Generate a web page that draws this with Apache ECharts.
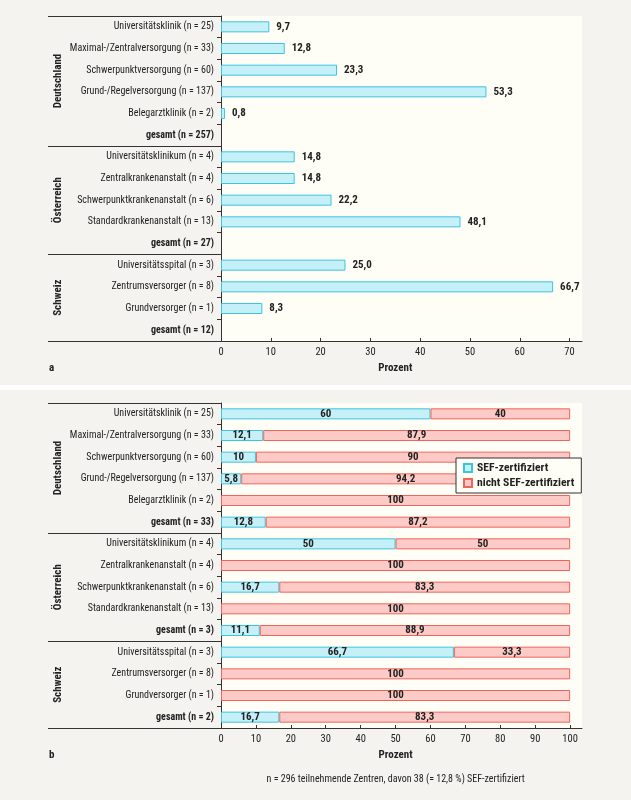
<!DOCTYPE html>
<html><head><meta charset="utf-8">
<script src="https://cdn.jsdelivr.net/npm/echarts@6/dist/echarts.min.js"></script>
<style>html,body{margin:0;padding:0;background:#f4f3f0}#c{width:631px;height:800px}</style>
</head><body><div id="c"></div>
<script>
// ---- data ----
const groups = ['Deutschland', 'Österreich', 'Schweiz'];
const groupSizes = [6, 5, 4];
const catsA = [
  'Universitätsklinik (n = 25)', 'Maximal-/Zentralversorgung (n = 33)', 'Schwerpunktversorgung (n = 60)',
  'Grund-/Regelversorgung (n = 137)', 'Belegarztklinik (n = 2)', 'gesamt (n = 257)',
  'Universitätsklinikum (n = 4)', 'Zentralkrankenanstalt (n = 4)', 'Schwerpunktkrankenanstalt (n = 6)',
  'Standardkrankenanstalt (n = 13)', 'gesamt (n = 27)',
  'Universitätsspital (n = 3)', 'Zentrumsversorger (n = 8)', 'Grundversorger (n = 1)', 'gesamt (n = 12)'
];
const valsA = [9.7, 12.8, 23.3, 53.3, 0.8, null, 14.8, 14.8, 22.2, 48.1, null, 25.0, 66.7, 8.3, null];
const catsB = [
  'Universitätsklinik (n = 25)', 'Maximal-/Zentralversorgung (n = 33)', 'Schwerpunktversorgung (n = 60)',
  'Grund-/Regelversorgung (n = 137)', 'Belegarztklinik (n = 2)', 'gesamt (n = 33)',
  'Universitätsklinikum (n = 4)', 'Zentralkrankenanstalt (n = 4)', 'Schwerpunktkrankenanstalt (n = 6)',
  'Standardkrankenanstalt (n = 13)', 'gesamt (n = 3)',
  'Universitätsspital (n = 3)', 'Zentrumsversorger (n = 8)', 'Grundversorger (n = 1)', 'gesamt (n = 2)'
];
const sefYes = [60, 12.1, 10, 5.8, null, 12.8, 50, null, 16.7, null, 11.1, 66.7, null, null, 16.7];
const sefNo  = [40, 87.9, 90, 94.2, 100, 87.2, 50, 100, 83.3, 100, 88.9, 33.3, 100, 100, 83.3];
const ticksA = [0, 10, 20, 30, 40, 50, 60, 70];
const ticksB = [0, 10, 20, 30, 40, 50, 60, 70, 80, 90, 100];
const seriesNames = ['SEF-zertifiziert', 'nicht SEF-zertifiziert'];
const footnote = 'n = 296 teilnehmende Zentren, davon 38 (= 12,8 %) SEF-zertifiziert';

// ---- style ----
const FONT = "'Roboto Condensed', 'Liberation Sans Narrow', sans-serif";
const TXT = '#222';
const CREAM = '#fefdf6';
const CY = '#c6f0f7', CYB = '#3cc5df';
const RD = '#fccbc7', RDB = '#f0645b';
const comma = v => String(v).replace('.', ',');

const chart = echarts.init(document.getElementById('c'), null, {renderer: 'canvas'});

function yAx(idx, cats) {
  return {
    type: 'category', gridIndex: idx, data: cats, inverse: true,
    axisLine: {show: true, lineStyle: {color: '#333', width: 1}},
    axisTick: {show: true, interval: 0, length: 4, lineStyle: {color: '#333'}},
    axisLabel: {
      interval: 0, margin: 7, color: TXT, fontFamily: FONT, fontSize: 10,
      formatter: v => v.startsWith('gesamt') ? '{b|' + v + '}' : v,
      rich: {b: {fontWeight: 'bold', fontFamily: FONT, fontSize: 10, color: TXT}}
    },
    splitLine: {show: false}
  };
}
function xAx(idx, max, ticks) {
  return {
    type: 'value', gridIndex: idx, min: 0, max: max, interval: 10,
    axisLine: {show: true, lineStyle: {color: '#333', width: 1}},
    axisTick: {show: true, inside: true, length: 3, customValues: ticks, lineStyle: {color: '#333'}},
    axisLabel: {margin: 6, color: TXT, fontFamily: FONT, fontSize: 10.5, customValues: ticks,
      formatter: v => (v % 10 === 0 && v <= ticks[ticks.length - 1]) ? String(v) : ''},
    splitLine: {show: false}
  };
}

const option = {
  backgroundColor: '#f4f3f0',
  animation: false,
  textStyle: {fontFamily: FONT},
  grid: [
    {left: 221, top: 16, width: 361, height: 325, show: true, backgroundColor: CREAM, borderWidth: 0},
    {left: 221, top: 403, width: 361, height: 325, show: true, backgroundColor: CREAM, borderWidth: 0}
  ],
  xAxis: [xAx(0, 72.5, ticksA), xAx(1, 103.4, ticksB)],
  yAxis: [yAx(0, catsA), yAx(1, catsB)],
  legend: {
    data: seriesNames, orient: 'vertical', left: 456, top: 458,
    padding: [4, 7, 4, 7], itemGap: 3, itemWidth: 8, itemHeight: 8, icon: 'rect',
    borderColor: '#333', borderWidth: 1, backgroundColor: CREAM,
    textStyle: {fontFamily: FONT, fontSize: 11.7, fontWeight: 'bold', color: TXT}
  },
  series: [
    {
      type: 'bar', xAxisIndex: 0, yAxisIndex: 0, data: valsA, barWidth: 11,
      itemStyle: {color: CY, borderColor: CYB, borderWidth: 1},
      label: {show: true, position: 'right', distance: 7, fontFamily: FONT, fontSize: 11,
        fontWeight: 'bold', color: TXT, formatter: p => p.value == null ? '' : p.value.toFixed(1).replace('.', ',')}
    },
    {
      name: seriesNames[0], type: 'bar', stack: 'b', xAxisIndex: 1, yAxisIndex: 1, data: sefYes, barWidth: 11,
      itemStyle: {color: CY, borderColor: CYB, borderWidth: 1},
      label: {show: true, position: 'inside', fontFamily: FONT, fontSize: 11, fontWeight: 'bold',
        color: TXT, formatter: p => p.value == null ? '' : comma(p.value)}
    },
    {
      name: seriesNames[1], type: 'bar', stack: 'b', xAxisIndex: 1, yAxisIndex: 1, data: sefNo, barWidth: 11,
      itemStyle: {color: RD, borderColor: RDB, borderWidth: 1},
      label: {show: true, position: 'inside', fontFamily: FONT, fontSize: 11, fontWeight: 'bold',
        color: TXT, formatter: p => p.value == null ? '' : comma(p.value)}
    }
  ]
};
chart.setOption(option);

// ---- decorations computed from the axes ----
const els = [];
els.push({type: 'rect', shape: {x: 0, y: 385, width: 631, height: 5}, style: {fill: '#ffffff'}, z: -1});
[0, 1].forEach(gi => {
  const p0 = chart.convertToPixel({yAxisIndex: gi}, 0);
  const p1 = chart.convertToPixel({yAxisIndex: gi}, 1);
  const step = p1 - p0;
  const xLeft = chart.convertToPixel({xAxisIndex: gi}, 0);
  const bounds = [0];
  let acc = 0;
  groupSizes.forEach(s => { acc += s; bounds.push(acc); });
  bounds.forEach(b => {
    const y = Math.round(p0 - step / 2 + b * step) + 0.5;
    els.push({type: 'line', shape: {x1: 48, y1: y, x2: xLeft, y2: y}, style: {stroke: '#333', lineWidth: 1}, z: 10});
  });
  groups.forEach((g, i) => {
    const yc = p0 - step / 2 + (bounds[i] + bounds[i + 1]) / 2 * step;
    els.push({type: 'text', x: 58, y: yc, rotation: Math.PI / 2,
      style: {text: g, fontFamily: FONT, fontSize: 11, fontWeight: 'bold', fill: TXT, align: 'center', verticalAlign: 'middle'}});
  });
  const ticks = gi === 0 ? ticksA : ticksB;
  const xMid = chart.convertToPixel({xAxisIndex: gi}, ticks[ticks.length - 1] / 2);
  const yBot = Math.round(p0 - step / 2 + 15 * step);
  els.push({type: 'text', x: xMid, y: yBot + 27, style: {text: 'Prozent', fontFamily: FONT, fontSize: 11,
    fontWeight: 'bold', fill: TXT, align: 'center', verticalAlign: 'middle'}});
  els.push({type: 'text', x: 49, y: yBot + 27, style: {text: gi === 0 ? 'a' : 'b', fontFamily: FONT, fontSize: 11,
    fontWeight: 'bold', fill: TXT, align: 'left', verticalAlign: 'middle'}});
  if (gi === 1) {
    els.push({type: 'text', x: xMid, y: yBot + 51, style: {text: footnote, fontFamily: FONT, fontSize: 10,
      fill: TXT, align: 'center', verticalAlign: 'middle'}});
  }
});
chart.setOption({graphic: {elements: els}});
</script></body></html>
